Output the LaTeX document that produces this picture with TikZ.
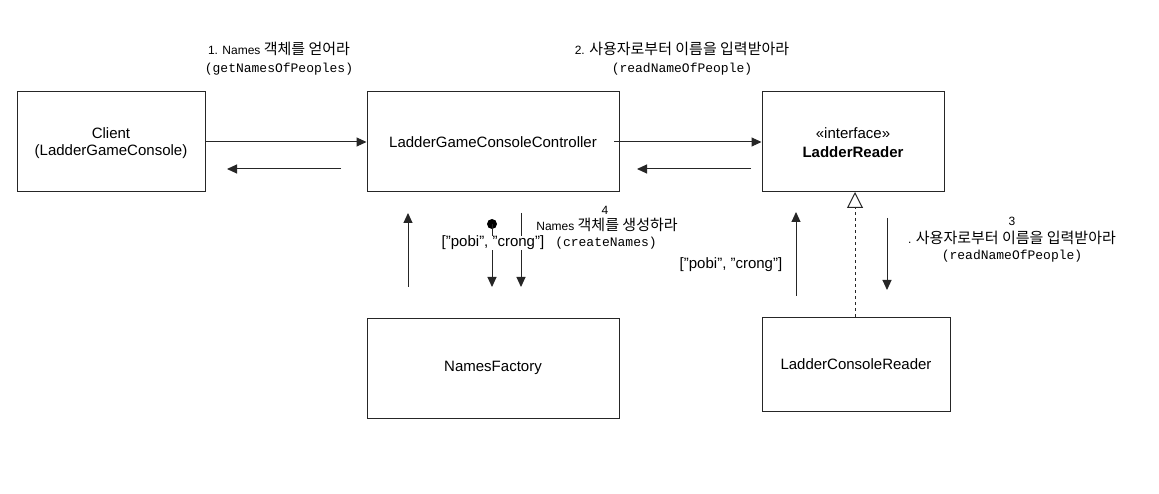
\documentclass[tikz,border=0pt]{standalone}
\usepackage{fontspec}
\setmainfont{Liberation Sans}
\newfontfamily\krf{Noto Sans CJK KR}
\newcommand{\kr}{\krf\fontsize{15}{16}\selectfont}
\newfontfamily\mono{Liberation Mono}
\usetikzlibrary{arrows.meta}
\tikzset{
  box/.style={draw=black!85, line width=1pt, rectangle, inner sep=0pt, align=center, font=\fontsize{15}{18}\selectfont},
  arr/.style={draw=black!85, line width=1pt, -{Triangle[length=10pt,width=9pt]}},
  realize/.style={draw=black!85, line width=1pt, dashed, dash pattern=on 3pt off 3pt, -{Triangle[open,length=16pt,width=16pt,line width=1pt]}},
  lbl/.style={inner sep=0pt, align=center, font=\fontsize{12}{14}\selectfont},
  big/.style={inner sep=0pt, align=center, font=\fontsize{15}{18}\selectfont},
  code/.style={inner sep=0pt, font=\mono\fontsize{13}{15}\selectfont}
}
\begin{document}
\begin{tikzpicture}[x=1pt,y=-1pt]
\useasboundingbox (0,0) rectangle (1159,494);
\fill[white] (0,0) rectangle (1159,494);

% boxes
\node[box, minimum width=188pt, minimum height=100pt] (client) at (111,142) {};
\node[big] (clientt1) at (111,133) {Client};
\node[big] (clientt2) at (111,152) {(LadderGameConsole)};

\node[box, minimum width=252pt, minimum height=100pt] (ctrl) at (493,142) {LadderGameConsoleController};

\node[box, minimum width=182pt, minimum height=100pt] (reader) at (853,142) {};
\node[big] (readert1) at (853,133) {«interface»};
\node[big] (readert2) at (853,152) {\bfseries LadderReader};

\node[box, minimum width=252pt, minimum height=100pt] (factory) at (493,368) {NamesFactory};

\node[box, minimum width=188pt, minimum height=94pt] (consreader) at (856,364) {LadderConsoleReader};

% coordinates for free ends
\coordinate (r1s) at (341,169);
\coordinate (r1e) at (227,169);
\coordinate (c2s) at (614,142);
\coordinate (r2s) at (751,169);
\coordinate (r2e) at (637,169);
\coordinate (u1s) at (408,287);
\coordinate (u1e) at (408,213);
\node[circle, fill=black, inner sep=0pt, minimum size=10pt] (dot) at (492,224) {};
\coordinate (d1e) at (492,287);
\coordinate (d2s) at (521,213);
\coordinate (d2e) at (521,287);
\coordinate (u2s) at (796,296);
\coordinate (u2e) at (796,212);
\coordinate (d3s) at (887,218);
\coordinate (d3e) at (887,290);
\coordinate (rl) at (855,192);
\coordinate (rlb) at (855,317);

% connectors
\draw[arr] (client.east) -- (ctrl.west);
\draw[arr] (r1s) -- (r1e);
\draw[arr] (c2s) -- (reader.west);
\draw[arr] (r2s) -- (r2e);
\draw[arr] (u1s) -- (u1e);
\draw[arr] (dot.center) -- (d1e);
\draw[arr] (d2s) -- (d2e);
\draw[arr] (u2s) -- (u2e);
\draw[arr] (d3s) -- (d3e);
\draw[realize] (rlb) -- (rl);

% labels
\node[lbl] (l1a) at (279,49) {1. Names {\kr 객체를 얻어라}};
\node[code] (l1b) at (279,69) {(getNamesOfPeoples)};

\node[lbl] (l2a) at (682,49) {2. {\kr 사용자로부터 이름을 입력받아라}};
\node[code] (l2b) at (682,69) {(readNameOfPeople)};

\node[lbl] (l4a) at (605,210) {4};
\node[lbl] (l4b) at (607,225) {Names {\kr 객체를 생성하라}};
\node[code] (l4c) at (606,243) {(createNames)};
\node[big, fill=white, inner xsep=1pt] (pobi1) at (493,243) {["pobi", "crong"]};

\node[big] (pobi2) at (731,265) {["pobi", "crong"]};

\node[lbl] (l3a) at (1012,221) {3};
\node[lbl] (l3b) at (1012,238) {. {\kr 사용자로부터 이름을 입력받아라}};
\node[code] (l3c) at (1012,256) {(readNameOfPeople)};
\end{tikzpicture}
\end{document}
